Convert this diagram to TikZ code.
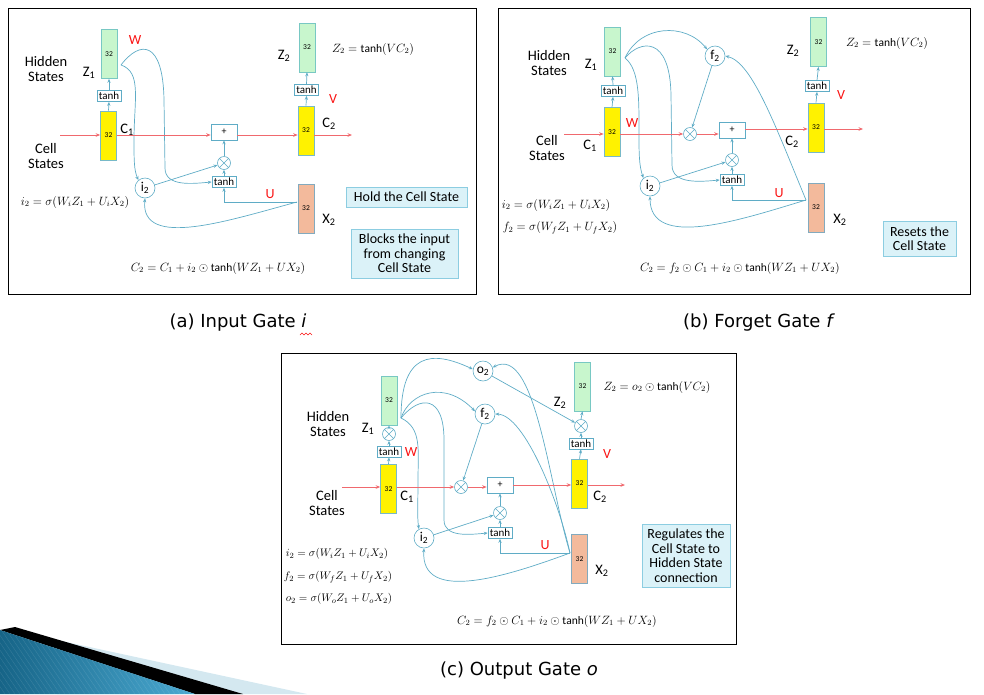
\documentclass[tikz,border=0pt]{standalone}
\usepackage{fontspec}
\setmainfont{Carlito}
\newfontfamily\capfont{DejaVu Sans}
\usetikzlibrary{arrows.meta,calc}

\definecolor{conn}{RGB}{95,172,198}
\definecolor{redl}{RGB}{240,105,110}
\definecolor{wred}{RGB}{250,20,20}
\definecolor{zgreen}{RGB}{200,246,205}
\definecolor{zedge}{RGB}{120,200,195}
\definecolor{yedge}{RGB}{120,185,200}
\definecolor{salmon}{RGB}{243,186,156}
\definecolor{xedge}{RGB}{130,170,190}
\definecolor{notefill}{RGB}{219,242,248}
\definecolor{noteedge}{RGB}{140,205,225}
\definecolor{tealdark}{RGB}{22,100,135}
\definecolor{teallight}{RGB}{75,170,210}
\definecolor{palebl}{RGB}{212,232,240}

\begin{document}
\begin{tikzpicture}[x=1pt,y=-1pt,
  conn/.style={draw=conn, line width=0.7pt, -{Stealth[length=4pt,width=3.2pt]}},
  redl/.style={draw=redl, line width=0.75pt, -{Stealth[length=4.5pt,width=3.6pt]}},
  unit/.style={rectangle, minimum width=16pt, minimum height=49pt, inner sep=0pt,
    line width=0.6pt, font=\fontsize{7.5}{8}\selectfont},
  zbox/.style={unit, fill=zgreen, draw=zedge},
  ybox/.style={unit, fill=yellow, draw=yedge},
  xbox/.style={unit, fill=salmon, draw=xedge},
  tanhbox/.style={draw=conn, fill=white, line width=0.6pt, inner sep=1pt,
    minimum width=24pt, minimum height=11pt, font=\fontsize{11}{11}\selectfont},
  plusbox/.style={draw=conn, fill=white, line width=0.6pt, minimum width=26pt,
    minimum height=16pt, inner sep=0pt, font=\fontsize{10}{10}\selectfont},
  mult/.style={circle, draw=conn, fill=white, minimum size=13pt, inner sep=0pt,
    line width=0.6pt, path picture={\draw[draw=conn, line width=0.5pt]
      (path picture bounding box.north west) -- (path picture bounding box.south east)
      (path picture bounding box.north east) -- (path picture bounding box.south west);}},
  gate/.style={circle, draw=conn, fill=white, minimum size=20pt, inner sep=0pt,
    line width=0.6pt, font=\fontsize{13.5}{13.5}\selectfont},
  lbl/.style={font=\fontsize{14.5}{15}\selectfont, align=center, inner sep=0pt},
  wlbl/.style={font=\fontsize{14}{14}\selectfont, text=wred, inner sep=0pt},
  eq/.style={font=\fontsize{11.5}{13}\selectfont, inner sep=0pt},
  eqs/.style={font=\fontsize{11}{13}\selectfont, inner sep=0pt},
  note/.style={draw=noteedge, fill=notefill, line width=0.8pt, align=center,
    font=\fontsize{14}{14.5}\selectfont, inner sep=0pt},
  panel/.style={draw=black, line width=0.8pt},
  captxt/.style={font=\capfont\fontsize{18}{20}\selectfont, inner sep=0pt}
]
\useasboundingbox (0,0) rectangle (984,694);

% ---------------- decorative swoosh, bottom left ----------------
\fill[palebl] (57,640) -- (307,694) -- (57,694) -- cycle;
\fill[black] (15,627) -- (243,694) -- (195,694) -- (0,630) -- cycle;
\shade[left color=tealdark, right color=teallight] (0,630) -- (195,694) -- (0,694) -- cycle;
\begin{scope}
  \clip (0,630) -- (195,694) -- (0,694) -- cycle;
  \foreach \i in {-80,-75,...,200}
    \draw[white, opacity=0.12, line width=0.4pt] (\i,628) -- (\i+45,694);
\end{scope}

% =================== (a) input gate ===================
\draw[panel] (8,8) rectangle (476,294);
\node[zbox] (aZ1) at (109,54) {32};
\node[tanhbox] (aT1) at (109,96) {tanh};
\node[ybox] (aC1) at (108.5,135.5) {32};
\node[plusbox] (aPlus) at (224,132) {+};
\node[mult] (aMul) at (224,163) {};
\node[tanhbox] (aTh) at (224,182) {tanh};
\node[gate] (ai2) at (145,188) {i\textsubscript{2}};
\node[ybox] (aC2) at (306,130.5) {32};
\node[tanhbox] (aT2) at (306.5,90) {tanh};
\node[zbox] (aZ2) at (307,47.5) {32};
\node[xbox] (aX2) at (306,208.5) {32};

\node[lbl] at (46,69) {Hidden\\States};
\node[lbl] at (46,156) {Cell\\States};
\node[lbl] at (89,73) {Z\textsubscript{1}};
\node[lbl] at (127,130) {C\textsubscript{1}};
\node[lbl] at (284,56) {Z\textsubscript{2}};
\node[lbl] at (329,124) {C\textsubscript{2}};
\node[lbl] at (329,220) {X\textsubscript{2}};
\node[wlbl] at (135,40) {W};
\node[wlbl] at (333,99) {V};
\node[wlbl] at (270,194) {U};

\node[eq] at (373,49) {$Z_2=\tanh(VC_2)$};
\node[eq] at (75,202) {$i_2=\sigma(W_iZ_1+U_iX_2)$};
\node[eq] at (218,268) {$C_2=C_1+i_2\odot\tanh(WZ_1+UX_2)$};

\node[note, minimum width=121pt, minimum height=20pt] (aN1) at (406.5,197) {Hold the Cell State};
\node[note, minimum width=107pt, minimum height=49pt] (aN2) at (404.5,253.5) {Blocks the input\\from changing\\Cell State};

\coordinate (aZo) at (121,65);
\coordinate (aXo) at (297,202);
\draw[conn] (aC1.north) -- (aT1.south);
\draw[conn] (aT1.north) -- (aZ1.south);
\draw[conn] (aC2.north) -- (aT2.south);
\draw[conn] (aT2.north) -- (aZ2.south);
\draw[conn] (aMul.north) -- (aPlus.south);
\draw[conn] (aTh.north) -- (aMul.south);
\draw[conn] (ai2) -- (aMul);
\draw[conn] (aZo) .. controls (142,72) and (134,100) .. (134,140)
  .. controls (134,160) and (134,170) .. (ai2.130);
\draw[conn] (aZo) .. controls (140,40) and (163,40) .. (164,100) -- (165,168)
  to[out=-90,in=185] (aTh.west);
\draw[conn] (aXo) -| (aTh.south);
\draw[conn] (aXo) .. controls (230,220) and (140,250) .. (ai2.south);

\coordinate (aIn) at (60,135);
\coordinate (aOut) at (352,135);
\draw[redl] (aIn) -- (aIn -| aC1.west);
\draw[redl] (aIn -| aC1.east) -- (aIn -| aPlus.west);
\draw[redl] (aIn -| aPlus.east) -- (aIn -| aC2.west);
\draw[redl] (aIn -| aC2.east) -- (aOut);

% =================== (b) forget gate ===================
\draw[panel] (498,8) rectangle (970,294);
\node[zbox] (bZ1) at (612.5,51.5) {32};
\node[tanhbox] (bT1) at (613,91) {tanh};
\node[ybox] (bC1) at (612,132) {32};
\node[mult] (bM) at (690,134) {};
\node[plusbox] (bPlus) at (732,130) {+};
\node[mult] (bMi) at (732,160) {};
\node[tanhbox] (bTh) at (732,180) {tanh};
\node[gate] (bf2) at (715,56) {f\textsubscript{2}};
\node[gate] (bi2) at (650,186) {i\textsubscript{2}};
\node[ybox] (bC2) at (816,127.5) {32};
\node[tanhbox] (bT2) at (817,86) {tanh};
\node[zbox] (bZ2) at (818.5,42) {32};
\node[xbox] (bX2) at (816,207.5) {32};

\node[lbl] at (549,63) {Hidden\\States};
\node[lbl] at (547,148) {Cell\\States};
\node[lbl] at (591,65) {Z\textsubscript{1}};
\node[lbl] at (590,146) {C\textsubscript{1}};
\node[lbl] at (793,51) {Z\textsubscript{2}};
\node[lbl] at (792,142) {C\textsubscript{2}};
\node[lbl] at (840,220) {X\textsubscript{2}};
\node[wlbl] at (632,123) {W};
\node[wlbl] at (841,95) {V};
\node[wlbl] at (779,193) {U};

\node[eq] at (887,43) {$Z_2=\tanh(VC_2)$};
\node[eq] at (556,205) {$i_2=\sigma(W_iZ_1+U_iX_2)$};
\node[eq] at (560,228) {$f_2=\sigma(W_fZ_1+U_fX_2)$};
\node[eq] at (740,268) {$C_2=f_2\odot C_1+i_2\odot\tanh(WZ_1+UX_2)$};

\node[note, minimum width=73pt, minimum height=35pt] (bN1) at (919.5,238.5) {Resets the\\Cell State};

\coordinate (bZo) at (625,58);
\coordinate (bXo) at (806,200);
\draw[conn] (bC1.north) -- (bT1.south);
\draw[conn] (bT1.north) -- (bZ1.south);
\draw[conn] (bC2.north) -- (bT2.south);
\draw[conn] (bT2.north) -- (bZ2.south);
\draw[conn] (bMi.north) -- (bPlus.south);
\draw[conn] (bTh.north) -- (bMi.south);
\draw[conn] (bi2) -- (bMi);
\draw[conn] (bf2) -- (bM);
\draw[conn] (bZo) .. controls (640,25) and (685,22) .. (bf2.140);
\draw[conn] (bZo) .. controls (640,40) and (670,35) .. (671,95) -- (672,165)
  to[out=-90,in=185] (bTh.west);
\draw[conn] (bZo) .. controls (640,70) and (639,100) .. (639,140)
  .. controls (639,160) and (640,168) .. (bi2.130);
\draw[conn] (bXo) -| (bTh.south);
\draw[conn] (bXo) .. controls (740,220) and (650,250) .. (bi2.south);
\draw[conn] (bXo) .. controls (775,125) and (752,62) .. (bf2.east);

\coordinate (bIn) at (564,134);
\coordinate (bR) at (745,129);
\coordinate (bOut) at (863,129);
\draw[redl] (bIn) -- (bIn -| bC1.west);
\draw[redl] (bIn -| bC1.east) -- (bM.west);
\draw[redl] (bM.east) -- (bIn -| bPlus.west);
\draw[redl] (bR -| bPlus.east) -- (bR -| bC2.west);
\draw[redl] (bR -| bC2.east) -- (bOut);

% =================== (c) output gate ===================
\draw[panel] (281,353) rectangle (736,644);
\node[zbox] (cZ1) at (389,400.5) {32};
\node[mult] (cMz) at (389,434) {};
\node[tanhbox] (cT1) at (389,451.5) {tanh};
\node[ybox] (cC1) at (388.5,489) {32};
\node[mult] (cM) at (461,487) {};
\node[plusbox] (cPlus) at (500,485) {+};
\node[mult] (cMi) at (500,513) {};
\node[tanhbox] (cTh) at (500,533) {tanh};
\node[gate] (co2) at (483,371) {o\textsubscript{2}};
\node[gate] (cf2) at (485,414) {f\textsubscript{2}};
\node[gate] (ci2) at (424,538) {i\textsubscript{2}};
\node[zbox] (cZ2) at (582.5,386.5) {32};
\node[mult] (cMo) at (581,426) {};
\node[tanhbox] (cT2) at (581,443.5) {tanh};
\node[ybox] (cC2) at (579.5,483.5) {32};
\node[xbox] (cX2) at (579.5,559) {32};

\node[lbl] at (328,424) {Hidden\\States};
\node[lbl] at (327,503) {Cell\\States};
\node[lbl] at (368,429) {Z\textsubscript{1}};
\node[lbl] at (407,497) {C\textsubscript{1}};
\node[lbl] at (560,403) {Z\textsubscript{2}};
\node[lbl] at (600,497) {C\textsubscript{2}};
\node[lbl] at (602,571) {X\textsubscript{2}};
\node[wlbl] at (411,452) {W};
\node[wlbl] at (607,454) {V};
\node[wlbl] at (545,545) {U};

\node[eq] at (657,387) {$Z_2=o_2\odot\tanh(VC_2)$};
\node[eqs] at (337,554) {$i_2=\sigma(W_iZ_1+U_iX_2)$};
\node[eqs] at (338,577) {$f_2=\sigma(W_fZ_1+U_fX_2)$};
\node[eqs] at (339,599) {$o_2=\sigma(W_oZ_1+U_oX_2)$};
\node[eq] at (557,621) {$C_2=f_2\odot C_1+i_2\odot\tanh(WZ_1+UX_2)$};

\node[note, minimum width=88pt, minimum height=63pt] (cN1) at (686,555.5) {Regulates the\\Cell State to\\Hidden State\\connection};

\coordinate (cZo) at (401,418);
\coordinate (cXo) at (570,553);
\draw[conn] (cC1.north) -- (cT1.south);
\draw[conn] (cT1.north) -- (cMz.south);
\draw[conn] (cMz.north) -- (cZ1.south);
\draw[conn] (cC2.north) -- (cT2.south);
\draw[conn] (cT2.north) -- (cMo.south);
\draw[conn] (cMo.north) -- (cZ2.south);
\draw[conn] (cMi.north) -- (cPlus.south);
\draw[conn] (cTh.north) -- (cMi.south);
\draw[conn] (ci2) -- (cMi);
\draw[conn] (cf2) -- (cM);
\draw[conn] (co2) -- (cMo);
\draw[conn] (cZo) .. controls (401,352) and (432,350) .. (co2.170);
\draw[conn] (cZo) .. controls (410,392) and (445,380) .. (cf2.165);
\draw[conn] (cZo) .. controls (420,395) and (444,395) .. (444,440) -- (444,520)
  to[out=-90,in=185] (cTh.west);
\draw[conn] (cZo) .. controls (422,428) and (418,450) .. (418,480)
  .. controls (418,505) and (417,515) .. (ci2.120);
\draw[conn] (cXo) -| (cTh.south);
\draw[conn] (cXo) .. controls (510,575) and (420,605) .. (ci2.south);
\draw[conn] (cXo) .. controls (548,480) and (535,345) .. (co2.20);
\draw[conn] (cXo) .. controls (560,505) and (525,415) .. (cf2.east);

\coordinate (cIn) at (342,487);
\coordinate (cOut) at (625,485);
\draw[redl] (cIn) -- (cIn -| cC1.west);
\draw[redl] (cIn -| cC1.east) -- (cM.west);
\draw[redl] (cM.east) -- (cIn -| cPlus.west);
\draw[redl] (cOut -| cPlus.east) -- (cOut -| cC2.west);
\draw[redl] (cOut -| cC2.east) -- (cOut);

% =================== captions ===================
\node[captxt] (capA) at (238,323) {(a) Input Gate \textit{i}};
\node[captxt] (capB) at (759,323) {(b) Forget Gate \textit{f}};
\node[captxt] (capC) at (519,671) {(c) Output Gate \textit{o}};
\draw[wred, line width=0.6pt] (300,335) -- (302,333) -- (304,335) -- (306,333)
  -- (308,335) -- (310,333) -- (312,335);

\end{tikzpicture}
\end{document}
